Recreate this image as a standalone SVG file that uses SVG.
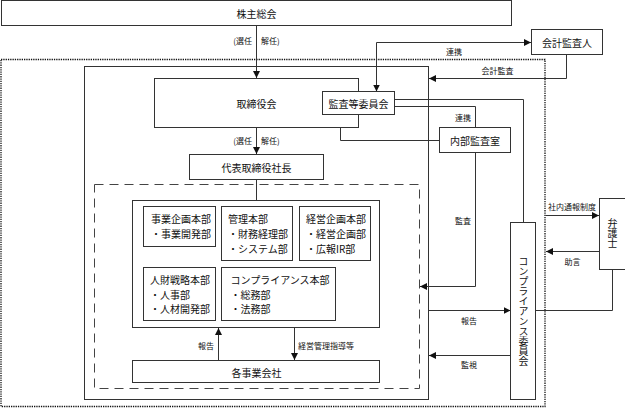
<svg xmlns="http://www.w3.org/2000/svg" width="625" height="408" viewBox="0 0 625 408">
<style>
.b{fill:#fff;stroke:#333;stroke-width:1}
.f{fill:none;stroke:#333;stroke-width:1}
.t{font-family:"Noto Sans CJK JP","Noto Sans",sans-serif;font-size:10px;fill:#111}
.s{font-family:"Noto Sans CJK JP","Noto Sans",sans-serif;font-size:8px;fill:#111}
.c{text-anchor:middle;dominant-baseline:central}
.l{dominant-baseline:central}
.v{text-anchor:middle;writing-mode:vertical-rl;dominant-baseline:central}
.a{marker-end:url(#ah)}
</style>
<defs>
<marker id="ah" viewBox="0 0 10 10" refX="10" refY="5" markerWidth="7" markerHeight="7" markerUnits="userSpaceOnUse" orient="auto">
<path d="M0,0 L10,5 L0,10 Z" fill="#111"/>
</marker>
</defs>
<rect x="1" y="59.5" width="544" height="347" fill="none" stroke="#111" stroke-width="1.3" stroke-dasharray="1.3 1"/>
<rect x="84.5" y="66.5" width="344" height="333" class="f"/>
<rect x="94.5" y="184.5" width="325" height="204" fill="none" stroke="#444" stroke-width="1" stroke-dasharray="9 6"/>
<g id="connectors">
<path class="f a" d="M256.5,25 V78"/>
<path class="f a" d="M256.5,127 V154"/>
<path class="f" d="M256.5,179 V200"/>
<path class="f a" d="M376.5,42.5 V91.5"/>
<path class="f a" d="M376.5,42.5 H531"/>
<path class="f a" d="M566.5,54 V78.5 H429"/>
<path class="f" d="M394,99.5 H523.5 V222"/>
<path class="f" d="M394,106.5 H475.5 V128"/>
<path class="f" d="M340.5,114 V140.5 H439"/>
<path class="f a" d="M475.5,152.5 V286.5 H420"/>
<path class="f a" d="M218.5,360 V328"/>
<path class="f a" d="M294.5,328 V360"/>
<path class="f a" d="M428.5,310.5 H510.5"/>
<path class="f a" d="M510.5,355.5 H429"/>
<path class="f a" d="M545.5,215.5 H599"/>
<path class="f a" d="M599,251.5 H546"/>
<path class="f" d="M612.5,269 V310.5 H536"/>
</g>
<g id="labels">
<text class="s" x="252" y="40" text-anchor="end" dominant-baseline="central">(選任</text>
<text class="s l" x="261" y="40">解任)</text>
<text class="s" x="252" y="140.5" text-anchor="end" dominant-baseline="central">(選任</text>
<text class="s l" x="261" y="140.5">解任)</text>
<text class="s c" x="454" y="51.5">連携</text>
<text class="s c" x="497.5" y="70">会計監査</text>
<text class="s c" x="463" y="117">連携</text>
<text class="s c" x="463" y="220">監査</text>
<text class="s c" x="206" y="345">報告</text>
<text class="s l" x="298" y="345">経営管理指導等</text>
<text class="s c" x="469" y="320">報告</text>
<text class="s c" x="469" y="364">監視</text>
<text class="s c" x="572" y="206">社内通報制度</text>
<text class="s c" x="572.5" y="261.5">助言</text>
</g>
<g id="n-shareholders"><rect class="b" x="1.5" y="0.5" width="510" height="25"/><text class="t c" x="256.5" y="13">株主総会</text></g>
<g id="n-board"><rect class="b" x="154.5" y="78.5" width="204" height="49"/><text class="t c" x="256.5" y="103">取締役会</text></g>
<g id="n-audit"><rect class="b" x="322.5" y="91.5" width="72" height="23"/><text class="t c" x="358.5" y="103">監査等委員会</text></g>
<g id="n-auditor"><rect class="b" x="531.5" y="29.5" width="71" height="25"/><text class="t c" x="567" y="42">会計監査人</text></g>
<g id="n-internal"><rect class="b" x="439.5" y="127.5" width="71" height="25"/><text class="t c" x="475" y="140">内部監査室</text></g>
<g id="n-president"><rect class="b" x="189.5" y="154.5" width="134" height="25"/><text class="t c" x="256.5" y="167">代表取締役社長</text></g>
<g id="n-divisions">
<rect class="b" x="132.5" y="200.5" width="247" height="127"/>
<rect class="b" x="143.5" y="206.5" width="72" height="40"/>
<text class="t l" x="151" y="218.5">事業企画本部</text>
<text class="t l" x="151" y="233.5">・事業開発部</text>
<rect class="b" x="221.5" y="206.5" width="71" height="54"/>
<text class="t l" x="228" y="218.5">管理本部</text>
<text class="t l" x="228" y="233.5">・財務経理部</text>
<text class="t l" x="228" y="248.5">・システム部</text>
<rect class="b" x="299.5" y="206.5" width="71" height="54"/>
<text class="t l" x="306" y="218.5">経営企画本部</text>
<text class="t l" x="306" y="233.5">・経営企画部</text>
<text class="t l" x="306" y="248.5">・広報IR部</text>
<rect class="b" x="143.5" y="267.5" width="72" height="53"/>
<text class="t l" x="150" y="279.5">人財戦略本部</text>
<text class="t l" x="150" y="294.5">・人事部</text>
<text class="t l" x="150" y="308.5">・人材開発部</text>
<rect class="b" x="221.5" y="267.5" width="114" height="53"/>
<text class="t l" x="230.5" y="279.5">コンプライアンス本部</text>
<text class="t l" x="230.5" y="294.5">・総務部</text>
<text class="t l" x="230.5" y="308.5">・法務部</text>
</g>
<g id="n-subsidiaries"><rect class="b" x="132.5" y="360.5" width="247" height="22"/><text class="t c" x="256.5" y="372">各事業会社</text></g>
<g id="n-compliance"><rect class="b" x="510.5" y="222.5" width="25" height="177"/><text class="t v" x="523.5" y="311">コンプライアンス委員会</text></g>
<g id="n-lawyer"><rect class="b" x="599.5" y="198.5" width="26" height="71"/><text class="t v" x="612.5" y="233.5">弁護士</text></g>
</svg>
